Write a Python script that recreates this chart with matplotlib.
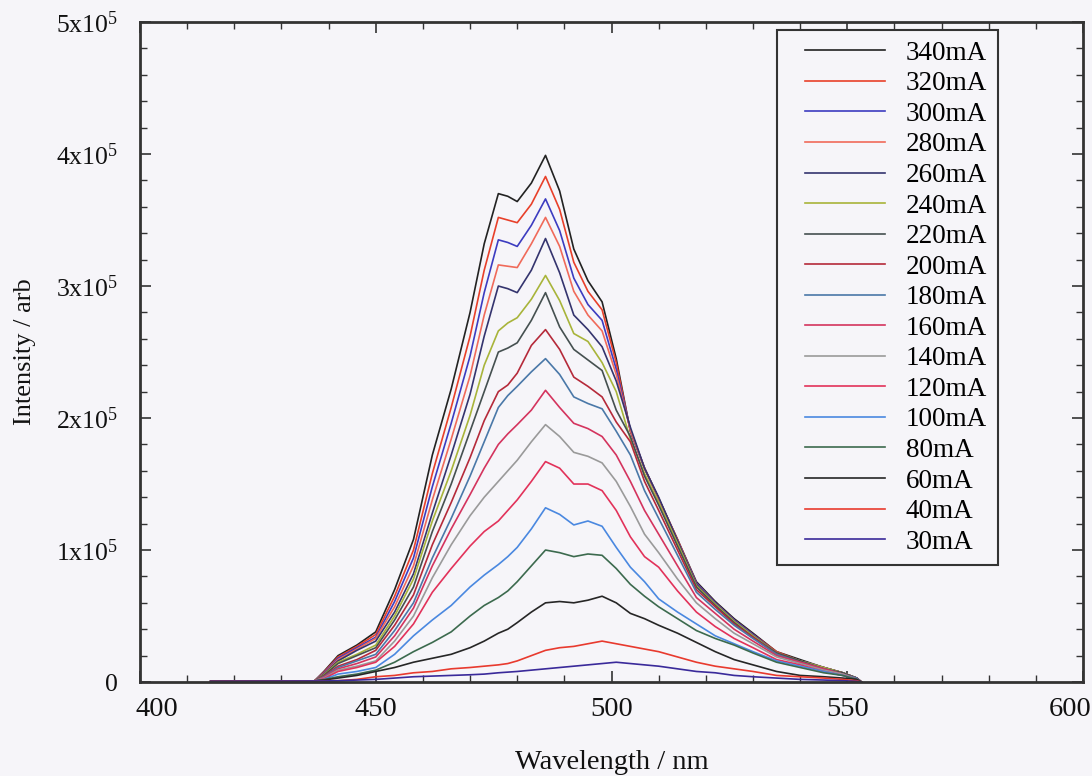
import matplotlib
matplotlib.use("Agg")
import matplotlib.pyplot as plt
import matplotlib.transforms as mtransforms
from matplotlib.lines import Line2D
from matplotlib.legend_handler import HandlerBase
from matplotlib.ticker import MultipleLocator, FuncFormatter

plt.rcParams["font.family"] = ["Liberation Serif", "DejaVu Serif"]
plt.rcParams["mathtext.fontset"] = "custom"
plt.rcParams["mathtext.rm"] = "Liberation Serif"

# Electroluminescence spectra at increasing drive current (intensity in units of 1e5)
wavelength = [415, 437, 439, 442, 446, 450, 454, 458, 462, 466, 470, 473, 476, 478,
              480, 483, 486, 489, 492, 495, 498, 501, 504, 507, 510, 514, 518, 522,
              526, 530, 535, 540, 545, 549, 552, 553]

i_340 = [0.005, 0.008, 0.08, 0.20, 0.28, 0.38, 0.70, 1.08, 1.72, 2.22, 2.80, 3.32, 3.70, 3.68,
         3.64, 3.78, 3.99, 3.72, 3.28, 3.04, 2.88, 2.45, 1.90, 1.62, 1.39, 1.08, 0.76, 0.61,
         0.48, 0.37, 0.23, 0.17, 0.11, 0.07, 0.03, 0.0]
i_320 = [0.005, 0.008, 0.075, 0.19, 0.27, 0.36, 0.65, 1.00, 1.58, 2.08, 2.62, 3.12, 3.52, 3.50,
         3.48, 3.62, 3.83, 3.58, 3.18, 2.96, 2.82, 2.42, 1.90, 1.62, 1.39, 1.08, 0.75, 0.60,
         0.47, 0.36, 0.23, 0.16, 0.11, 0.07, 0.03, 0.0]
i_300 = [0.005, 0.008, 0.07, 0.18, 0.26, 0.34, 0.61, 0.94, 1.48, 1.96, 2.47, 2.95, 3.35, 3.33,
         3.30, 3.46, 3.66, 3.42, 3.06, 2.86, 2.74, 2.37, 1.91, 1.62, 1.39, 1.07, 0.75, 0.60,
         0.47, 0.36, 0.22, 0.16, 0.11, 0.07, 0.03, 0.0]
i_280 = [0.005, 0.008, 0.065, 0.17, 0.25, 0.33, 0.57, 0.88, 1.38, 1.84, 2.32, 2.78, 3.16, 3.15,
         3.14, 3.32, 3.52, 3.30, 2.96, 2.78, 2.66, 2.33, 1.91, 1.62, 1.39, 1.07, 0.74, 0.59,
         0.46, 0.35, 0.22, 0.16, 0.11, 0.07, 0.03, 0.0]
i_260 = [0.005, 0.008, 0.06, 0.16, 0.24, 0.31, 0.53, 0.82, 1.28, 1.72, 2.18, 2.62, 3.00, 2.98,
         2.95, 3.12, 3.36, 3.10, 2.78, 2.67, 2.54, 2.28, 1.93, 1.62, 1.40, 1.07, 0.74, 0.59,
         0.46, 0.35, 0.22, 0.16, 0.11, 0.07, 0.03, 0.0]
i_240 = [0.005, 0.008, 0.055, 0.15, 0.21, 0.28, 0.50, 0.78, 1.22, 1.60, 2.02, 2.40, 2.66, 2.72,
         2.76, 2.90, 3.08, 2.89, 2.64, 2.58, 2.42, 2.20, 1.84, 1.58, 1.36, 1.05, 0.73, 0.59,
         0.46, 0.35, 0.22, 0.16, 0.11, 0.07, 0.03, 0.0]
i_220 = [0.005, 0.008, 0.05, 0.14, 0.20, 0.26, 0.47, 0.72, 1.14, 1.50, 1.90, 2.20, 2.50, 2.53,
         2.57, 2.74, 2.95, 2.69, 2.52, 2.44, 2.36, 2.06, 1.86, 1.56, 1.34, 1.03, 0.72, 0.58,
         0.45, 0.34, 0.22, 0.16, 0.10, 0.07, 0.03, 0.0]
i_200 = [0.005, 0.008, 0.045, 0.12, 0.17, 0.24, 0.43, 0.66, 1.04, 1.36, 1.70, 1.98, 2.20, 2.25,
         2.34, 2.55, 2.67, 2.52, 2.31, 2.24, 2.16, 1.97, 1.82, 1.52, 1.30, 1.00, 0.70, 0.57,
         0.44, 0.34, 0.21, 0.15, 0.10, 0.06, 0.03, 0.0]
i_180 = [0.005, 0.008, 0.04, 0.11, 0.16, 0.21, 0.39, 0.60, 0.94, 1.24, 1.56, 1.82, 2.08, 2.17,
         2.24, 2.35, 2.45, 2.33, 2.16, 2.11, 2.07, 1.90, 1.72, 1.45, 1.24, 0.96, 0.68, 0.55,
         0.43, 0.33, 0.21, 0.15, 0.10, 0.06, 0.03, 0.0]
i_160 = [0.005, 0.008, 0.035, 0.10, 0.14, 0.19, 0.35, 0.56, 0.88, 1.16, 1.42, 1.62, 1.80, 1.88,
         1.95, 2.06, 2.21, 2.08, 1.96, 1.92, 1.86, 1.72, 1.52, 1.30, 1.12, 0.88, 0.64, 0.52,
         0.40, 0.31, 0.20, 0.15, 0.10, 0.06, 0.02, 0.0]
i_140 = [0.005, 0.008, 0.03, 0.09, 0.12, 0.16, 0.31, 0.50, 0.79, 1.04, 1.26, 1.40, 1.52, 1.60,
         1.68, 1.82, 1.95, 1.86, 1.74, 1.71, 1.66, 1.52, 1.33, 1.12, 0.98, 0.78, 0.60, 0.48,
         0.37, 0.29, 0.19, 0.14, 0.09, 0.06, 0.02, 0.0]
i_120 = [0.005, 0.008, 0.025, 0.08, 0.11, 0.15, 0.27, 0.44, 0.68, 0.86, 1.03, 1.14, 1.22, 1.30,
         1.38, 1.52, 1.67, 1.62, 1.50, 1.50, 1.45, 1.30, 1.10, 0.95, 0.87, 0.69, 0.53, 0.42,
         0.33, 0.26, 0.17, 0.13, 0.08, 0.05, 0.02, 0.0]
i_100 = [0.005, 0.008, 0.02, 0.06, 0.08, 0.11, 0.21, 0.35, 0.47, 0.58, 0.72, 0.81, 0.89, 0.95,
         1.02, 1.16, 1.32, 1.27, 1.19, 1.22, 1.18, 1.02, 0.87, 0.76, 0.63, 0.53, 0.44, 0.35,
         0.29, 0.23, 0.16, 0.12, 0.08, 0.05, 0.02, 0.0]
i_80 = [0.005, 0.008, 0.018, 0.04, 0.06, 0.09, 0.15, 0.23, 0.30, 0.38, 0.50, 0.58, 0.64, 0.69,
        0.76, 0.88, 1.00, 0.98, 0.95, 0.97, 0.96, 0.86, 0.74, 0.65, 0.57, 0.48, 0.39, 0.33,
        0.28, 0.22, 0.15, 0.11, 0.07, 0.05, 0.02, 0.0]
i_60 = [0.005, 0.008, 0.015, 0.03, 0.05, 0.08, 0.11, 0.15, 0.18, 0.21, 0.26, 0.31, 0.37, 0.40,
        0.45, 0.53, 0.60, 0.61, 0.60, 0.62, 0.65, 0.60, 0.52, 0.48, 0.43, 0.37, 0.30, 0.23,
        0.17, 0.13, 0.08, 0.05, 0.04, 0.03, 0.02, 0.0]
i_40 = [0.005, 0.008, 0.01, 0.01, 0.02, 0.04, 0.05, 0.07, 0.08, 0.10, 0.11, 0.12, 0.13, 0.14,
        0.16, 0.20, 0.24, 0.26, 0.27, 0.29, 0.31, 0.29, 0.27, 0.25, 0.23, 0.19, 0.15, 0.12,
        0.10, 0.08, 0.05, 0.04, 0.03, 0.02, 0.01, 0.0]
i_30 = [0.005, 0.008, 0.008, 0.01, 0.015, 0.02, 0.03, 0.04, 0.045, 0.05, 0.055, 0.06, 0.07, 0.075,
        0.08, 0.09, 0.10, 0.11, 0.12, 0.13, 0.14, 0.15, 0.14, 0.13, 0.12, 0.10, 0.08, 0.07,
        0.05, 0.04, 0.03, 0.02, 0.015, 0.01, 0.005, 0.0]

labels = ["340mA", "320mA", "300mA", "280mA", "260mA", "240mA", "220mA", "200mA", "180mA",
          "160mA", "140mA", "120mA", "100mA", "80mA", "60mA", "40mA", "30mA"]
series = [i_340, i_320, i_300, i_280, i_260, i_240, i_220, i_200, i_180,
          i_160, i_140, i_120, i_100, i_80, i_60, i_40, i_30]
colors = ["#222222", "#e8402a", "#3c3cc0", "#f06a5a", "#34346e", "#a8b43a", "#455050",
          "#b52a3a", "#4a78a8", "#d4345e", "#9a9a9a", "#e2325a", "#4a88e0", "#3c6a4e",
          "#262626", "#e83a2e", "#3a2a9a"]
x_ticks = [400, 450, 500, 550, 600]
scale = 1e5


class InsetLine(HandlerBase):
    """Legend key drawn as a line that leaves a gap on its left side."""

    def create_artists(self, legend, orig_handle, xdescent, ydescent,
                       width, height, fontsize, trans):
        y = height / 2.0 - ydescent
        x0 = -xdescent + 0.18 * width
        x1 = -xdescent + width
        ln = Line2D([x0, x1], [y, y], color=orig_handle.get_color(),
                    lw=orig_handle.get_linewidth())
        ln.set_transform(trans)
        return [ln]


bg = "#f6f5f9"
fig = plt.figure(figsize=(10.92, 7.76), dpi=100, facecolor=bg)
ax = fig.add_axes([0.1282, 0.1211, 0.8636, 0.8505])
ax.set_facecolor(bg)

handles = []
for lab, vals, col in zip(labels, series, colors):
    h, = ax.plot(wavelength, [v * scale for v in vals], color=col, lw=1.2, label=lab)
    handles.append(h)

ax.set_xlim(400, 600)
ax.set_ylim(0, 5e5)
ax.set_xticks(x_ticks)
ax.xaxis.set_minor_locator(MultipleLocator(10))
ax.yaxis.set_major_locator(MultipleLocator(1e5))
ax.yaxis.set_minor_locator(MultipleLocator(2e4))


def ylab(v, pos):
    n = int(round(v / 1e5))
    if n == 0:
        return "0"
    return r"$\mathregular{%dx10^{5}}$" % n


ax.yaxis.set_major_formatter(FuncFormatter(ylab))
ax.tick_params(which="both", direction="in", top=True, right=True, colors="#333333",
               labelcolor="#111111")
ax.tick_params(which="major", length=8, width=1.2)
ax.tick_params(which="minor", length=5, width=1.0)
ax.tick_params(axis="x", which="major", pad=11, labelsize=20.5)
ax.tick_params(axis="y", which="major", pad=16, labelsize=18.5)
for s in ax.spines.values():
    s.set_linewidth(2.0)
    s.set_color("#333333")

# keep the end labels of the wavelength axis inside the figure
fig.canvas.draw()
xt = ax.get_xticklabels()
xt[0].set_transform(xt[0].get_transform() +
                    mtransforms.ScaledTranslation(0.17, 0, fig.dpi_scale_trans))
xt[-1].set_transform(xt[-1].get_transform() +
                     mtransforms.ScaledTranslation(-0.13, 0, fig.dpi_scale_trans))

ax.set_xlabel("Wavelength / nm", fontsize=20.5, labelpad=20, color="#111111")
ax.set_ylabel("Intensity / arb", fontsize=19, labelpad=14, color="#111111")

leg = ax.legend(handles=handles, labels=labels, loc="upper left",
                bbox_to_anchor=(0.6755, 0.988), fontsize=19.5,
                handler_map={Line2D: InsetLine()},
                handlelength=3.6, handletextpad=0.75, labelspacing=0.205,
                borderpad=0.4, borderaxespad=0.0, fancybox=False, frameon=True)
leg.get_frame().set_edgecolor("#333333")
leg.get_frame().set_linewidth(1.5)
leg.get_frame().set_facecolor(bg)
leg.get_frame().set_alpha(1.0)

fig.savefig("out.png", dpi=100, facecolor=bg)
